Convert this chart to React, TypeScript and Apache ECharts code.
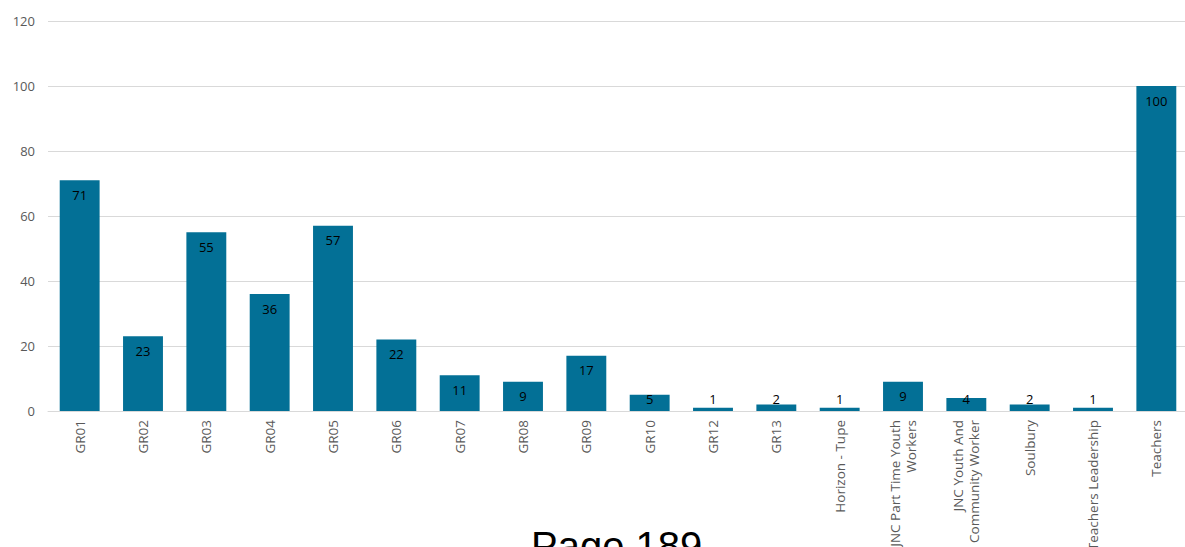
import React, { useEffect, useRef } from "react";
import * as echarts from "echarts";

const categories = [
  "GR01", "GR02", "GR03", "GR04", "GR05", "GR06", "GR07", "GR08", "GR09", "GR10",
  "GR12", "GR13", "Horizon - Tupe", "JNC Part Time Youth\nWorkers",
  "JNC Youth And\nCommunity Worker", "Soulbury", "Teachers Leadership", "Teachers",
];
const values = [71, 23, 55, 36, 57, 22, 11, 9, 17, 5, 1, 2, 1, 9, 4, 2, 1, 100];
const yTicks = { min: 0, max: 120, interval: 20 };
const pageText = "Page 189";

export default function App() {
  const ref = useRef<HTMLDivElement>(null);
  useEffect(() => {
    const chart = echarts.init(ref.current!, null, { renderer: "svg" });
    chart.setOption({
      animation: false,
      grid: {
        left: 48,
        top: 21,
        width: 1140,
        height: 390,
        containLabel: false,
        outerBoundsMode: "none",
      },
      xAxis: {
        type: "category",
        data: categories,
        axisLine: { lineStyle: { color: "#d9d9d9" } },
        axisTick: { show: false },
        axisLabel: {
          rotate: 90,
          interval: 0,
          color: "#595959",
          fontSize: 13.5,
          fontFamily: "Open Sans",
          margin: 9,
          lineHeight: 16,
          align: "right",
        },
      },
      yAxis: {
        type: "value",
        min: yTicks.min,
        max: yTicks.max,
        interval: yTicks.interval,
        axisLine: { show: false },
        axisTick: { show: false },
        splitLine: { lineStyle: { color: "#d9d9d9" } },
        axisLabel: { color: "#595959", fontSize: 13, fontFamily: "Open Sans", margin: 13 },
      },
      series: [
        {
          type: "bar",
          barCategoryGap: "37%",
          itemStyle: { color: "#037096" },
          data: values.map((v) => ({
            value: v,
            label:
              v < 9
                ? { position: "insideBottom", distance: 6 }
                : { position: "insideTop", distance: 8 },
          })),
          label: {
            show: true,
            color: "#000",
            fontSize: 13,
            fontFamily: "Open Sans",
          },
        },
      ],
      graphic: [
        {
          type: "text",
          left: 531,
          top: 526,
          style: {
            text: pageText,
            fontSize: 40,
            fontFamily: "Liberation Sans",
            fill: "#000",
          },
        },
      ],
    });
    return () => chart.dispose();
  }, []);
  return (
    <div
      ref={ref}
      style={{ position: "absolute", left: 0, top: 0, width: 1185, height: 547, background: "#fff" }}
    />
  );
}
